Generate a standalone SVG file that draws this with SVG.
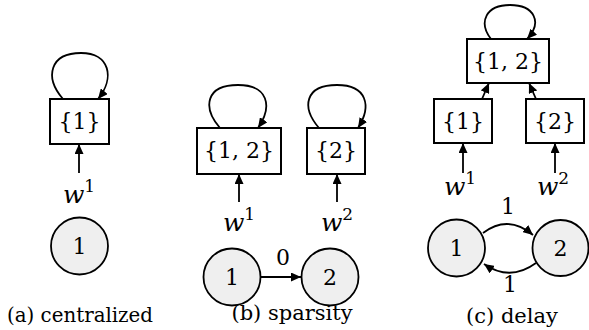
<svg xmlns="http://www.w3.org/2000/svg" width="589" height="330" viewBox="0 0 589 330">
  <style>
    .box { fill: #ffffff; stroke: #000; stroke-width: 2; }
    .agent { fill: #efefef; stroke: #000; stroke-width: 1.8; }
    .edge { fill: none; stroke: #000; stroke-width: 1.8; marker-end: url(#arrow); }
    text { font-family: "DejaVu Serif", "Liberation Serif", "Noto Serif", serif; fill: #000; text-anchor: middle; }
    .lbl { font-size: 22px; }
    .num { font-size: 22px; }
    .w { font-size: 25px; font-style: italic; }
    .sup { font-style: normal; font-size: 17px; }
    .cap { font-size: 21px; }
  </style>
  <defs>
    <marker id="arrow" markerUnits="userSpaceOnUse" markerWidth="11" markerHeight="9" refX="10" refY="4.5" orient="auto">
      <path d="M0,0 L10,4.5 L0,9 z" fill="#000"/>
    </marker>
  </defs>

  <!-- connectors -->
  <g id="connectors">
    <!-- (a) -->
    <path class="edge" d="M63,99 C44,77 50,53 81,53 C110,53 115,78 98,99"/>
    <path class="edge" d="M79,173 L79,144"/>
    <!-- (b) -->
    <path class="edge" d="M220,128 C202,107 206,85 238,85 C268,85 273,106 258,128"/>
    <path class="edge" d="M319,128 C301,107 305,85 337,85 C367,85 372,106 358,128"/>
    <path class="edge" d="M239,202 L239,174"/>
    <path class="edge" d="M337,202 L337,174"/>
    <path class="edge" d="M261,277 L301,277"/>
    <!-- (c) -->
    <path class="edge" d="M491,39 C478,22 486,5 510,5 C534,5 543,22 527,39"/>
    <path class="edge" d="M482,99 L489,83"/>
    <path class="edge" d="M536,99 L529,83"/>
    <path class="edge" d="M463,173 L463,143"/>
    <path class="edge" d="M555,173 L555,143"/>
    <path class="edge" d="M483,233 Q508,214 533,235"/>
    <path class="edge" d="M536,263 Q510,282 484,264"/>
  </g>

  <!-- (a) centralized -->
  <g id="a-set1">
    <rect class="box" x="50" y="99" width="59" height="45"/>
    <text class="lbl" x="79.5" y="129">{1}</text>
  </g>
  <g id="a-w1"><text class="w" x="79" y="203">w<tspan class="sup" dy="-11">1</tspan></text></g>
  <g id="a-agent1">
    <circle class="agent" cx="79.5" cy="246" r="28.5"/>
    <text class="num" x="79.5" y="254">1</text>
  </g>
  <text class="cap" x="80" y="322" textLength="146" lengthAdjust="spacingAndGlyphs">(a) centralized</text>

  <!-- (b) sparsity -->
  <g id="b-set12">
    <rect class="box" x="197" y="128" width="84" height="46"/>
    <text class="lbl" x="239" y="158">{1, 2}</text>
  </g>
  <g id="b-set2">
    <rect class="box" x="307" y="128" width="58" height="46"/>
    <text class="lbl" x="336" y="158">{2}</text>
  </g>
  <g id="b-w1"><text class="w" x="239" y="231">w<tspan class="sup" dy="-11">1</tspan></text></g>
  <g id="b-w2"><text class="w" x="337" y="231">w<tspan class="sup" dy="-11">2</tspan></text></g>
  <g id="b-agent1">
    <circle class="agent" cx="232" cy="277" r="28.5"/>
    <text class="num" x="232" y="285">1</text>
  </g>
  <g id="b-agent2">
    <circle class="agent" cx="330" cy="277" r="28.5"/>
    <text class="num" x="330" y="285">2</text>
  </g>
  <text class="num" x="283" y="265">0</text>
  <text class="cap" x="292" y="320">(b) sparsity</text>

  <!-- (c) delay -->
  <g id="c-set12">
    <rect class="box" x="467" y="39" width="82" height="44"/>
    <text class="lbl" x="508" y="68.5">{1, 2}</text>
  </g>
  <g id="c-set1">
    <rect class="box" x="434" y="99" width="58" height="44"/>
    <text class="lbl" x="463" y="128.5">{1}</text>
  </g>
  <g id="c-set2">
    <rect class="box" x="526" y="99" width="58" height="44"/>
    <text class="lbl" x="555" y="128.5">{2}</text>
  </g>
  <g id="c-w1"><text class="w" x="460" y="195">w<tspan class="sup" dy="-11">1</tspan></text></g>
  <g id="c-w2"><text class="w" x="553" y="195">w<tspan class="sup" dy="-11">2</tspan></text></g>
  <g id="c-agent1">
    <circle class="agent" cx="456.5" cy="248" r="28.5"/>
    <text class="num" x="456.5" y="256">1</text>
  </g>
  <g id="c-agent2">
    <circle class="agent" cx="560.5" cy="248" r="28"/>
    <text class="num" x="560.5" y="256">2</text>
  </g>
  <text class="num" x="508" y="214">1</text>
  <text class="num" x="510" y="292">1</text>
  <text class="cap" x="512" y="323">(c) delay</text>
</svg>
